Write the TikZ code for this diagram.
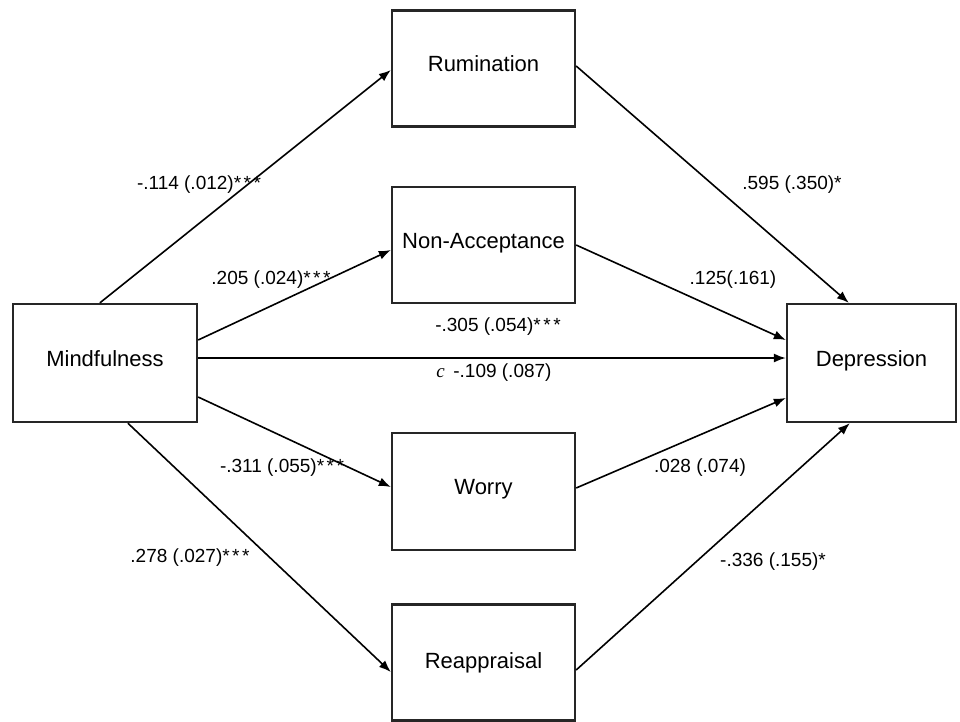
\documentclass[tikz,border=0pt]{standalone}
\usepackage{fontspec}
\setmainfont{Liberation Sans}
\newfontfamily\cfont{Liberation Serif}
\usetikzlibrary{arrows.meta,calc}
\newcommand\threestars{*\kern2.5pt*\kern2.5pt*}
\begin{document}
\begin{tikzpicture}[x=1pt,y=-1pt,
  box/.style={draw=black!85, line width=2.3pt, minimum width=183pt, minimum height=116pt,
    inner sep=0pt, font=\fontsize{22}{24}\selectfont},
  raisetext/.style={text height=12pt, text depth=6pt},
  arr/.style={line width=1.6pt, -{Latex[length=12pt,width=9pt]}},
  lab/.style={font=\fontsize{19}{22}\selectfont, inner sep=0pt}]
\useasboundingbox[fill=white] (0,0) rectangle (960,721);
\node[box, raisetext] (rum) at (483.5,68.5) {Rumination};
\node[box, raisetext] (non) at (483.5,245) {Non-Acceptance};
\node[box, raisetext, minimum width=184pt, minimum height=118pt] (mind) at (105,363) {Mindfulness};
\node[box, raisetext, minimum width=169pt, minimum height=118pt] (dep) at (871.5,363) {Depression};
\node[box, raisetext, minimum height=117pt] (worry) at (483.5,491.5) {Worry};
\node[box] (reap) at (483.5,662.5) {Reappraisal};
% paths from Mindfulness
\draw[arr] ($(mind.north west)+(88,0)$) -- ($(rum.west)+(0,1.5)$);
\draw[arr] ($(mind.east)+(0,-23)$) -- ($(non.west)+(0,5)$);
\draw[arr] ($(mind.east)+(0,-5)$) -- ($(dep.west)+(0,-5)$);
\draw[arr] ($(mind.east)+(0,34)$) -- ($(worry.west)+(0,-4.5)$);
\draw[arr] ($(mind.south west)+(116,0)$) -- ($(reap.west)+(0,9.5)$);
% paths to Depression
\draw[arr] ($(rum.east)+(0,-2.5)$) -- ($(dep.north west)+(63,0)$);
\draw[arr] (non.east) -- ($(dep.west)+(0,-23)$);
\draw[arr] ($(worry.east)+(0,-3.5)$) -- ($(dep.west)+(0,35)$);
\draw[arr] ($(reap.east)+(0,7.5)$) -- ($(dep.south west)+(64,0)$);
% labels
\node[lab] (l1) at (199,185) {-.114 (.012)\threestars};
\node[lab] (l2) at (271,280) {.205 (.024)\threestars};
\node[lab] (l3) at (498,327) {-.305 (.054)\threestars};
\node[lab] (l4) at (494,373) {{\cfont\itshape c} \,-.109 (.087)};
\node[lab] (l5) at (282,468) {-.311 (.055)\threestars};
\node[lab] (l6) at (190,558) {.278 (.027)\threestars};
\node[lab] (l7) at (792,185) {.595 (.350)*};
\node[lab] (l8) at (733,280) {.125(.161)};
\node[lab] (l9) at (700,468) {.028 (.074)};
\node[lab] (l10) at (773,562) {-.336 (.155)*};
\end{tikzpicture}
\end{document}
